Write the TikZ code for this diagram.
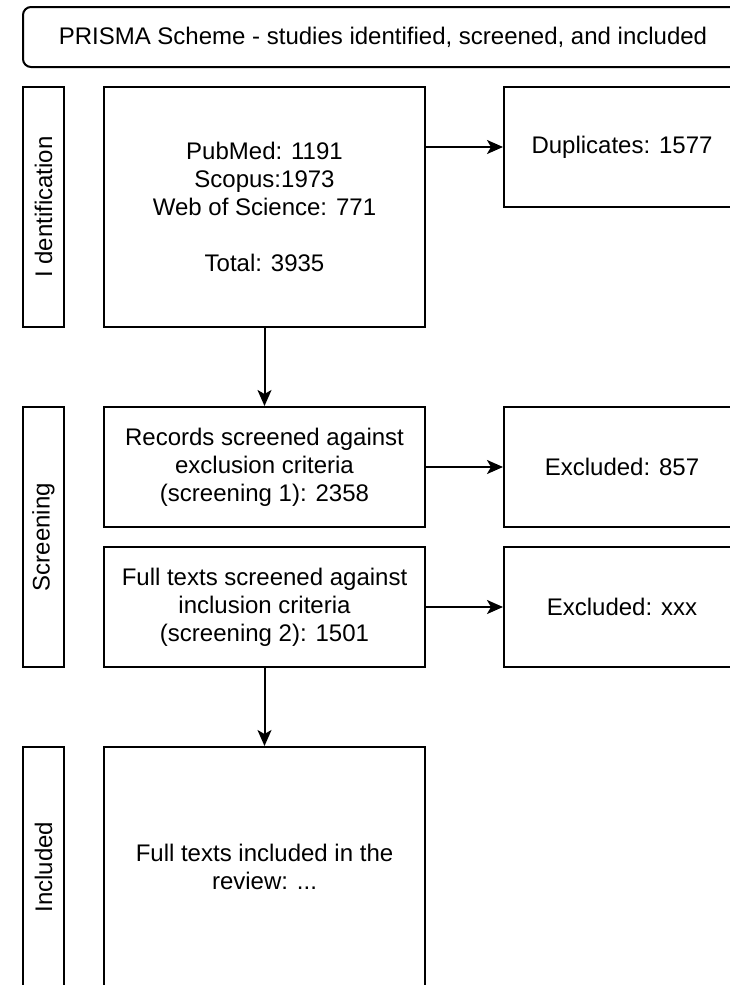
\documentclass[tikz,border=0pt]{standalone}
\usepackage{fontspec}
\setmainfont{Liberation Sans}
\usetikzlibrary{arrows.meta,positioning}
\begin{document}
\begin{tikzpicture}[
	x=1pt, y=-1pt,
	every node/.style={
		font=\fontsize{24}{28}\selectfont, align=center, inner sep=0pt
	},
	stagebox/.style={
		draw, line width=2pt, minimum width=321pt, minimum height=#1
	},
	sidebox/.style={
		draw, line width=2pt, minimum width=236pt, minimum height=120pt
	},
	lanebox/.style={
		draw, line width=2pt, rotate=90, minimum width=#1, minimum height=41pt
	},
	flow/.style={
		-{Stealth[length=16pt, width=14pt, inset=4pt]}, line width=2pt
	}
]
	\useasboundingbox (0, 0) rectangle (730, 985);
	\clip (0, 0) rectangle (730, 985);
	% Title
	\node[draw, line width=2pt, rounded corners=8pt, minimum width=720pt,
		minimum height=60pt] (title) at (383, 37)
		{PRISMA Scheme - studies identified, screened, and included};
	% Stages
	\node[lanebox=240pt] (lIdent) at (43.5, 207) {I dentification};
	\node[lanebox=260pt] (lScreen) at (43.5, 537) {Screening};
	\node[lanebox=240pt] (lIncl) at (43.5, 867) {Included};
	\node[stagebox=240pt] (nSources) at (264.5, 207)
		{PubMed: 1191\\Scopus:1973\\Web of Science: 771\\[28pt]Total: 3935};
	\node[stagebox=120pt] (nScreen1) at (264.5, 467)
		{Records screened against\\exclusion criteria\\(screening 1): 2358};
	\node[stagebox=120pt] (nScreen2) at (264.5, 607)
		{Full texts screened against\\inclusion criteria\\(screening 2): 1501};
	\node[stagebox=240pt] (nIncl) at (264.5, 867)
		{Full texts included in the\\review: ...};
	% Removed
	\node[sidebox] (nDupl) at (622, 147) {Duplicates: 1577};
	\node[sidebox] (nExcl1) at (622, 467) {Excluded: 857};
	\node[sidebox] (nExcl2) at (622, 607) {Excluded: xxx};
	% Arrows
	\draw[flow] (nSources.east |- nDupl.west) -- (nDupl.west);
	\draw[flow] (nSources) -- (nScreen1);
	\draw[flow] (nScreen1) -- (nExcl1);
	\draw[flow] (nScreen2) -- (nExcl2);
	\draw[flow] (nScreen2) -- (nIncl);
\end{tikzpicture}
\end{document}
